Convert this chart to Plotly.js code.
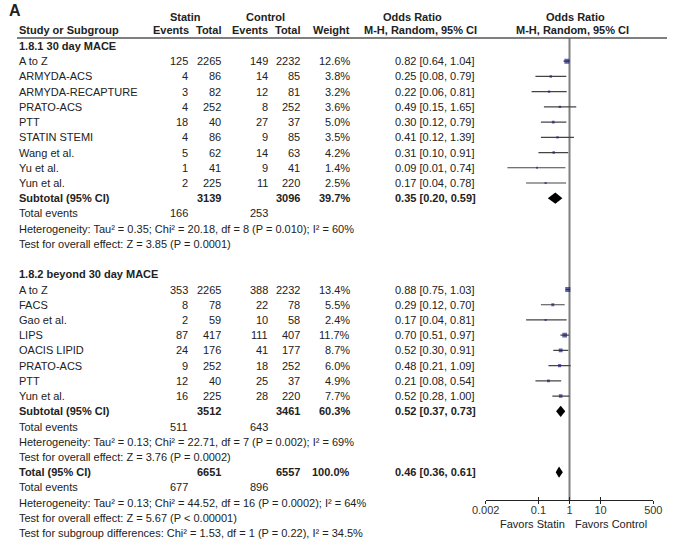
<!DOCTYPE html>
<html>
<head>
<meta charset="utf-8">
<script src="https://cdn.plot.ly/plotly-3.0.1.min.js"></script>
<style>html,body{margin:0;padding:0;background:#fff;}#chart{width:684px;height:551px;}</style>
</head>
<body>
<div id="chart"></div>
<script>
// ---------- DATA ----------
const studies1 = ["A to Z","ARMYDA-ACS","ARMYDA-RECAPTURE","PRATO-ACS","PTT","STATIN STEMI","Wang et al.","Yu et al.","Yun et al."];
const statinEv1 = [125,4,3,4,18,4,5,1,2];
const statinTot1 = [2265,86,82,252,40,86,62,41,225];
const ctrlEv1 = [149,14,12,8,27,9,14,9,11];
const ctrlTot1 = [2232,85,81,252,37,85,63,41,220];
const weight1 = [12.6,3.8,3.2,3.6,5.0,3.5,4.2,1.4,2.5];
const or1 = [0.82,0.25,0.22,0.49,0.30,0.41,0.31,0.09,0.17];
const lo1 = [0.64,0.08,0.06,0.15,0.12,0.12,0.10,0.01,0.04];
const hi1 = [1.04,0.79,0.81,1.65,0.79,1.39,0.91,0.74,0.78];

const studies2 = ["A to Z","FACS","Gao et al.","LIPS","OACIS LIPID","PRATO-ACS","PTT","Yun et al."];
const statinEv2 = [353,8,2,87,24,9,12,16];
const statinTot2 = [2265,78,59,417,176,252,40,225];
const ctrlEv2 = [388,22,10,111,41,18,25,28];
const ctrlTot2 = [2232,78,58,407,177,252,37,220];
const weight2 = [13.4,5.5,2.4,11.7,8.7,6.0,4.9,7.7];
const or2 = [0.88,0.29,0.17,0.70,0.52,0.48,0.21,0.52];
const lo2 = [0.75,0.12,0.04,0.51,0.30,0.21,0.08,0.28];
const hi2 = [1.03,0.70,0.81,0.97,0.91,1.09,0.54,1.00];

// pooled: [subgroup 1, subgroup 2, overall]
const pooledLabels = ["Subtotal (95% CI)","Subtotal (95% CI)","Total (95% CI)"];
const pooledOR = [0.35,0.52,0.46];
const pooledLo = [0.20,0.37,0.36];
const pooledHi = [0.59,0.73,0.61];
const pooledStatinTot = [3139,3512,6651];
const pooledCtrlTot = [3096,3461,6557];
const pooledWeight = ["39.7%","60.3%","100.0%"];
const pooledStatinEv = [166,511,677];
const pooledCtrlEv = [253,643,896];
const heterogeneity = [
  "Heterogeneity: Tau² = 0.35; Chi² = 20.18, df = 8 (P = 0.010); I² = 60%",
  "Heterogeneity: Tau² = 0.13; Chi² = 22.71, df = 7 (P = 0.002); I² = 69%",
  "Heterogeneity: Tau² = 0.13; Chi² = 44.52, df = 16 (P = 0.0002); I² = 64%"
];
const overallEffect = [
  "Test for overall effect: Z = 3.85 (P = 0.0001)",
  "Test for overall effect: Z = 3.76 (P = 0.0002)",
  "Test for overall effect: Z = 5.67 (P &lt; 0.00001)"
];
const subgroupTest = "Test for subgroup differences: Chi² = 1.53, df = 1 (P = 0.22), I² = 34.5%";
const sectionTitles = ["1.8.1 30 day MACE","1.8.2 beyond 30 day MACE"];
const tickVals = [0.002,0.1,1,10,500];
const tickText = ["0.002","0.1","1","10","500"];
const favorsLabels = ["Favors Statin","Favors Control"];

// ---------- LAYOUT HELPERS ----------
const W = 684, H = 551;
const ROW0 = 46, ROWH = 15.22;           // pixel of row 0 and row pitch
const rowOf = p => (p - ROW0) / ROWH;     // pixel -> row
const TOP = rowOf(0), BOT = rowOf(H), AXROW = rowOf(500);
const TXT = '#222';
const ann = [];
function txt(xpx, row, text, anchor, bold, size) {
  ann.push({xref:'paper', yref:'y2', x: xpx / W, y: row, text: bold ? '<b>' + text + '</b>' : text,
    xanchor: anchor, yanchor:'middle', showarrow:false, font:{size: size || 11, color: TXT}});
}
const colStudy = 17, colSE = 190, colST = 223, colCE = 270, colCT = 302, colW = 352, colOR = 393;
const fmt = v => v.toFixed(2);
const orText = (o, l, h) => fmt(o) + ' [' + fmt(l) + ', ' + fmt(h) + ']';

// headers
txt(7, rowOf(10), 'A', 'left', true, 16);
txt(185, rowOf(17), 'Statin', 'center', true);
txt(265, rowOf(17), 'Control', 'center', true);
txt(413, rowOf(17), 'Odds Ratio', 'center', true);
txt(575, rowOf(17), 'Odds Ratio', 'center', true);
txt(colStudy, rowOf(30), 'Study or Subgroup', 'left', true);
txt(colSE + 1, rowOf(30), 'Events', 'right', true);
txt(colST, rowOf(30), 'Total', 'right', true);
txt(colCE, rowOf(30), 'Events', 'right', true);
txt(colCT, rowOf(30), 'Total', 'right', true);
txt(colW, rowOf(30), 'Weight', 'right', true);
txt(421, rowOf(30), 'M-H, Random, 95% CI', 'center', true);
txt(572, rowOf(30), 'M-H, Random, 95% CI', 'center', true);

// sections
const sections = [
  {start:0, names:studies1, se:statinEv1, st:statinTot1, ce:ctrlEv1, ct:ctrlTot1, w:weight1, o:or1, l:lo1, h:hi1},
  {start:15, names:studies2, se:statinEv2, st:statinTot2, ce:ctrlEv2, ct:ctrlTot2, w:weight2, o:or2, l:lo2, h:hi2}
];
const ciX = [], ciY = [], mX = [], mY = [], mS = [];
const pooledRows = [];
sections.forEach((s, k) => {
  txt(colStudy, s.start, sectionTitles[k], 'left', true);
  s.names.forEach((n, i) => {
    const r = s.start + 1 + i;
    txt(colStudy, r, n, 'left');
    txt(colSE, r, String(s.se[i]), 'right');
    txt(colST, r, String(s.st[i]), 'right');
    txt(colCE, r, String(s.ce[i]), 'right');
    txt(colCT, r, String(s.ct[i]), 'right');
    txt(colW, r, s.w[i].toFixed(1) + '%', 'right');
    txt(colOR, r, orText(s.o[i], s.l[i], s.h[i]), 'left');
    ciX.push(s.l[i], s.h[i], null); ciY.push(r, r, null);
    mX.push(s.o[i]); mY.push(r); mS.push(1.4 + s.w[i] * 0.28);
  });
  pooledRows.push(s.start + 1 + s.names.length);
});
pooledRows.push(28);
pooledRows.forEach((r, k) => {
  txt(colStudy, r, pooledLabels[k], 'left', true);
  txt(colST, r, String(pooledStatinTot[k]), 'right', true);
  txt(colCT, r, String(pooledCtrlTot[k]), 'right', true);
  txt(colW, r, pooledWeight[k], 'right', true);
  txt(colOR, r, orText(pooledOR[k], pooledLo[k], pooledHi[k]), 'left', true);
  txt(colStudy, r + 1, 'Total events', 'left');
  txt(colSE, r + 1, String(pooledStatinEv[k]), 'right');
  txt(colCE, r + 1, String(pooledCtrlEv[k]), 'right');
  txt(colStudy, r + 2, heterogeneity[k], 'left');
  txt(colStudy, r + 3, overallEffect[k], 'left');
});
txt(colStudy, 32, subgroupTest, 'left');
txt(532.5, rowOf(524), favorsLabels[0], 'center');
txt(611, rowOf(524), favorsLabels[1], 'center');

// diamonds
const traces = [];
pooledRows.forEach((r, k) => {
  const hh = 0.37;
  traces.push({type:'scatter', mode:'lines', xaxis:'x', yaxis:'y',
    x:[pooledLo[k], pooledOR[k], pooledHi[k], pooledOR[k], pooledLo[k]],
    y:[r, r - hh, r, r + hh, r], fill:'toself', fillcolor:'#000', line:{width:0, color:'#000'},
    hoverinfo:'skip', showlegend:false});
});
traces.unshift({type:'scatter', mode:'lines', x:ciX, y:ciY, xaxis:'x', yaxis:'y',
  line:{color:'#444', width:1.2}, connectgaps:false, hoverinfo:'skip', showlegend:false});
traces.push({type:'scatter', mode:'markers', x:mX, y:mY, xaxis:'x', yaxis:'y',
  marker:{symbol:'square', size:mS, color:'#1f1f78', line:{width:0}}, hoverinfo:'skip', showlegend:false});
traces.push({type:'scatter', mode:'markers', x:[1], y:[null], xaxis:'x3', yaxis:'y', showlegend:false, hoverinfo:'skip'});
traces.push({type:'scatter', mode:'markers', x:[0], y:[null], xaxis:'x2', yaxis:'y2', showlegend:false, hoverinfo:'skip'});

const logR = [Math.log10(0.002), Math.log10(500)];
const dom = [485.7 / W, 653.3 / W];
const layout = {
  width: W, height: H, margin:{l:0, r:0, t:0, b:0},
  paper_bgcolor:'#fff', plot_bgcolor:'rgba(0,0,0,0)',
  font:{family:'"Liberation Sans", Arial, sans-serif', size:11, color:TXT},
  showlegend:false,
  xaxis:{type:'log', range:logR, domain:dom, anchor:'y', tickvals:tickVals, ticktext:tickText,
    ticks:'outside', ticklen:3, tickwidth:1, tickcolor:'#222', showline:true, linecolor:'#222', linewidth:1,
    ticklabelstandoff:-3,
    showgrid:false, zeroline:false, tickfont:{size:11, color:'#333'}, fixedrange:true},
  xaxis3:{type:'log', range:logR, domain:dom, anchor:'y', overlaying:'x', tickvals:tickVals,
    ticks:'inside', ticklen:3, tickwidth:1, tickcolor:'#222', showticklabels:false, showline:false,
    showgrid:false, zeroline:false},
  yaxis:{range:[AXROW, TOP], domain:[(H - 500) / H, 1], anchor:'x', visible:false, fixedrange:true},
  xaxis2:{range:[0, W], domain:[0, 1], anchor:'y2', visible:false},
  yaxis2:{range:[BOT, TOP], domain:[0, 1], anchor:'x2', visible:false},
  annotations: ann,
  shapes:[
    {type:'line', xref:'x', yref:'y', x0:1, x1:1, y0:rowOf(38), y1:AXROW, line:{color:'#808080', width:2}, layer:'below'},
    {type:'line', xref:'paper', yref:'y2', x0:17 / W, x1:667 / W, y0:rowOf(38), y1:rowOf(38), line:{color:'#555', width:1.5}}
  ]
};
Plotly.newPlot('chart', traces, layout, {staticPlot:true, displayModeBar:false});
</script>
</body>
</html>
